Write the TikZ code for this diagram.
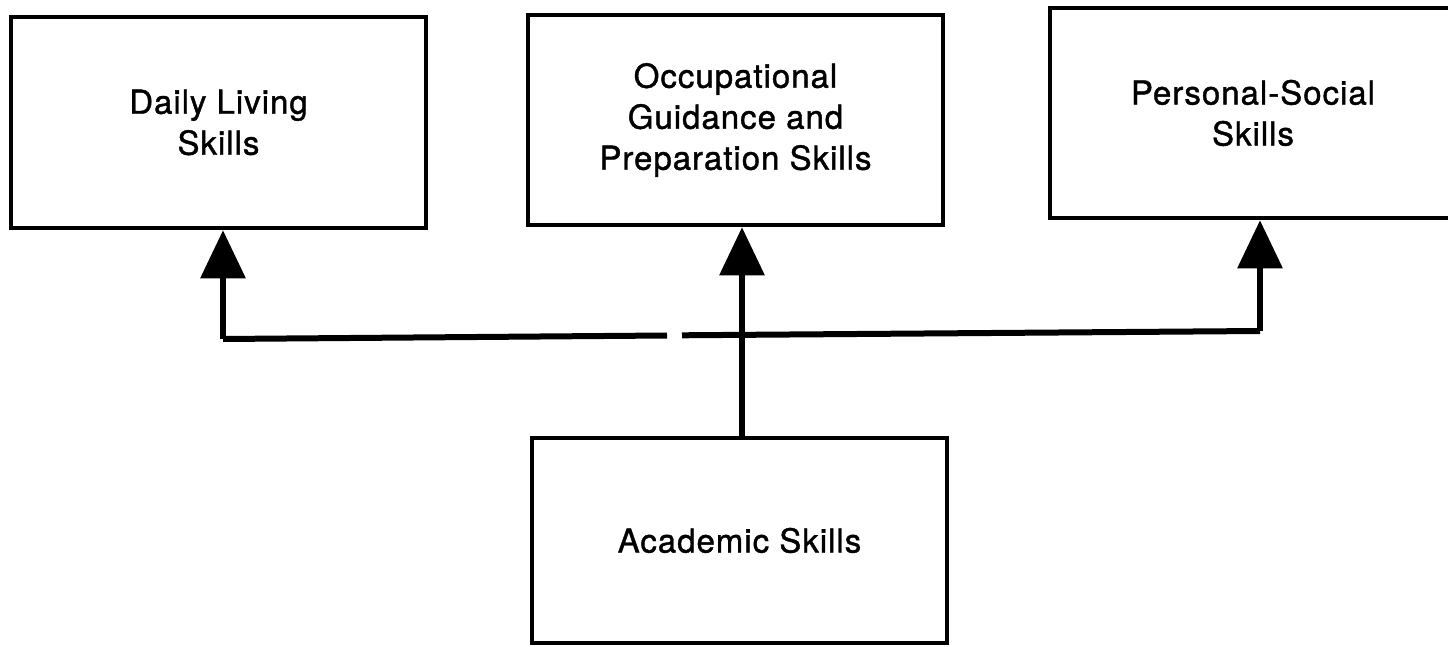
\documentclass[tikz,border=0pt]{standalone}
\usepackage{fontspec}
\setmainfont{TeX Gyre Heros}[LetterSpace=3,FakeBold=1.2]
\usetikzlibrary{arrows.meta}
\begin{document}
\begin{tikzpicture}[x=1pt,y=-1pt,
  skillbox/.style={draw=black,line width=4.5pt,fill=white,rectangle,
    minimum width=#1,align=center,font=\fontsize{33}{41}\selectfont,inner sep=0pt},
  skillbox/.default=415pt,
  link/.style={line width=6pt,draw=black},
  uparrow/.style={link,-{Triangle[width=44pt,length=48pt]}}]
\useasboundingbox (0,0) rectangle (1448,647);
\clip (0,0) rectangle (1448,647);

% the four skill areas
\node[skillbox, minimum height=211pt] (daily) at (218.5,122.5) {Daily Living\\Skills};
\node[skillbox, minimum height=210pt] (occup) at (735.5,120) {Occupational\\Guidance and\\Preparation Skills};
\node[skillbox=406pt, minimum height=210pt] (social) at (1253,113) {Personal-Social\\Skills};
\node[skillbox, minimum height=205pt] (acad) at (739.5,540.5) {Academic Skills};

% branch points on the distribution line
\coordinate (jl) at (223,339);
\coordinate (gl) at (667,335.5);
\coordinate (gr) at (682,335.3);
\coordinate (jr) at (1260,331);
\coordinate (jm) at (742,335);

% distribution line (with its small break left of centre)
\draw[link,line cap=butt] (jl) -- (gl);
\draw[link,line cap=butt] (gr) -- (jr);

% arrows up to the three areas
\draw[uparrow] (jl) -- (jl |- daily.south);
\draw[uparrow] (acad.north -| jm) -- (jm |- occup.south);
\draw[uparrow] (jr) -- (jr |- social.south);
\end{tikzpicture}
\end{document}
